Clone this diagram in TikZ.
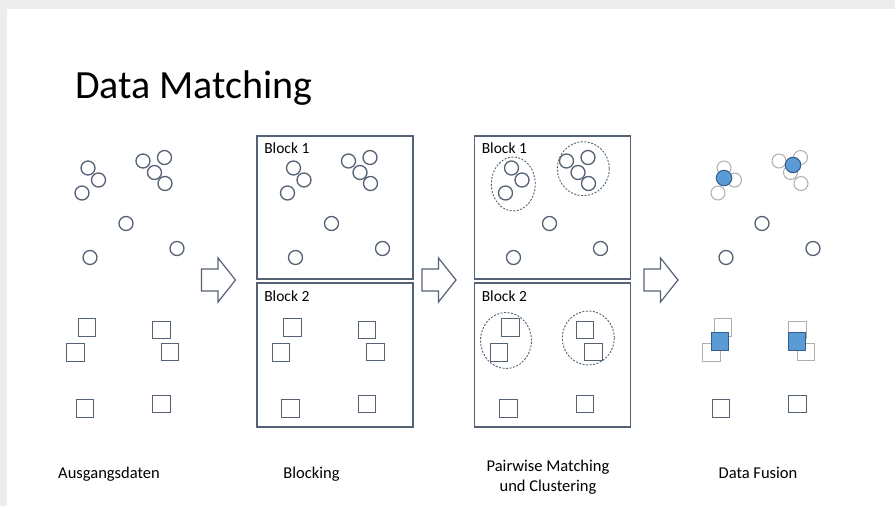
\documentclass[tikz,border=0pt]{standalone}
\usepackage{fontspec}
\setmainfont{Carlito}
\usepackage{tikz}
\usetikzlibrary{positioning, shapes.geometric, calc}
\definecolor{slate}{RGB}{84,98,116}
\definecolor{ghostgray}{RGB}{175,175,175}
\definecolor{fuseblue}{RGB}{91,155,213}
\definecolor{fuseline}{RGB}{52,92,140}
\definecolor{pagegray}{RGB}{237,237,237}
\tikzset{
    recnode/.style={
        circle,
        draw=slate, % Datensatz als Kreis
        line width=1.3pt,
        minimum size=14pt,
        inner sep=0
    },
    sqnode/.style={
        rectangle,
        draw=slate, % Datensatz als Quadrat
        line width=1.3pt,
        minimum size=17.5pt,
        inner sep=0
    },
    ghostcirc/.style={
        recnode,
        draw=ghostgray,
        line width=1pt
    },
    ghostsq/.style={
        sqnode,
        draw=ghostgray,
        line width=1pt
    },
    fusedcirc/.style={
        circle,
        draw=fuseline,
        fill=fuseblue, % fusionierter Datensatz
        line width=1pt,
        minimum size=15.5pt,
        inner sep=0
    },
    fusedsq/.style={
        rectangle,
        draw=fuseline,
        fill=fuseblue,
        line width=1pt,
        minimum size=17.5pt,
        inner sep=0
    },
    blockbox/.style={
        rectangle,
        draw=slate,
        line width=1.8pt,
        minimum width=156pt,
        minimum height=143.5pt,
        inner sep=0
    },
    clusternode/.style={
        ellipse,
        draw=slate,
        line width=0.9pt,
        dash pattern=on 2pt off 1.5pt,
        inner sep=0
    },
    flowarrow/.style={
        draw=slate,
        line width=1.2pt,
        line join=miter
    },
    blocklabel/.style={
        anchor=base west,
        inner sep=0,
        font=\fontsize{15.5}{18}\selectfont
    },
    caption/.style={
        anchor=base,
        inner sep=0,
        font=\fontsize{16.5}{20}\selectfont
    }
}
\newcommand{\circlelist}{1/88/168, 2/98.5/180, 3/82/193, 4/143/161, 5/164.5/157.5, 6/154.5/172.5, 7/165/183.5, 8/126/223.5, 9/90/257.5, 10/177/248.5}
\newcommand{\squarelist}{1/87/327.5, 2/75.5/352.5, 3/161.5/330, 4/170/352, 5/85/408.5, 6/161.5/404}

\begin{document}
\begin{tikzpicture}[x=1pt, y=-1pt]
    % Hintergrund
    \fill[pagegray] (0,0) rectangle (895,506);
    \fill[white] (7,9) rectangle (895,506);
    \useasboundingbox (0,0) rectangle (895,506);

    \node[anchor=base west, inner sep=0, font=\fontsize{40}{48}\selectfont] (title) at (75,98) {Data Matching};

    % Bloecke
    \node[blockbox] (blockb1) at (335,207.5) {};
    \node[blockbox] (blockb2) at (335,355) {};
    \node[blockbox] (blockc1) at (552.5,207.5) {};
    \node[blockbox] (blockc2) at (552.5,355) {};
    \node[blocklabel] (labb1) at ($(blockb1.north west)+(8,19)$) {Block 1};
    \node[blocklabel] (labb2) at ($(blockb2.north west)+(8,19)$) {Block 2};
    \node[blocklabel] (labc1) at ($(blockc1.north west)+(8,19)$) {Block 1};
    \node[blocklabel] (labc2) at ($(blockc2.north west)+(8,19)$) {Block 2};

    % Datensaetze in den ersten drei Spalten
    \foreach \col/\dx in {a/0, b/205.5, c/423.5} {
        \foreach \n/\px/\py in \circlelist {
            \node[recnode] (\col c\n) at (\px+\dx,\py) {};
        }
        \foreach \n/\px/\py in \squarelist {
            \node[sqnode] (\col s\n) at (\px+\dx,\py) {};
        }
    }

    % Cluster
    \node[clusternode, minimum width=44pt, minimum height=54pt] (kc1) at (513.3,184) {};
    \node[clusternode, minimum width=52pt, minimum height=54pt] (kc2) at (583.3,168.7) {};
    \node[clusternode, minimum width=51pt, minimum height=56pt] (ks1) at (506,340.5) {};
    \node[clusternode, minimum width=52pt, minimum height=54pt] (ks2) at (588.3,338) {};

    % Data Fusion
    \foreach \n/\px/\py in {1/88/168, 2/98.5/180, 3/82/193, 4/143/161, 5/164.5/157.5, 6/154.5/172.5, 7/165/183.5} {
        \node[ghostcirc] (dc\n) at (\px+636,\py) {};
    }
    \foreach \n/\px/\py in {8/126/223.5, 9/90/257.5, 10/177/248.5} {
        \node[recnode] (dc\n) at (\px+636,\py) {};
    }
    \foreach \n/\px/\py in {1/87/327.5, 2/75.5/352.5, 3/161.5/330, 4/170/352} {
        \node[ghostsq] (ds\n) at (\px+636,\py) {};
    }
    \foreach \n/\px/\py in {5/85/408.5, 6/161.5/404} {
        \node[sqnode] (ds\n) at (\px+636,\py) {};
    }
    \node[fusedcirc] (fc1) at (724,178) {};
    \node[fusedcirc] (fc2) at (793,165) {};
    \node[fusedsq] (fs1) at (720,341.5) {};
    \node[fusedsq] (fs2) at (797,341.5) {};

    % Pfeile
    \foreach \ax in {201.5, 422, 644} {
        \draw[flowarrow] (\ax,269) -- ++(16.5,0) -- ++(0,-11) -- ++(17.5,22) -- ++(-17.5,22) -- ++(0,-11) -- ++(-16.5,0) -- cycle;
    }

    % Beschriftungen
    \node[caption] (capa) at (109,478) {Ausgangsdaten};
    \node[caption] (capb) at (311.5,478) {Blocking};
    \node[caption] (capc) at (548,471) {Pairwise Matching};
    \node[caption] (capc2) at (548,491) {und Clustering};
    \node[caption] (capd) at (758,478) {Data Fusion};
\end{tikzpicture}
\end{document}
